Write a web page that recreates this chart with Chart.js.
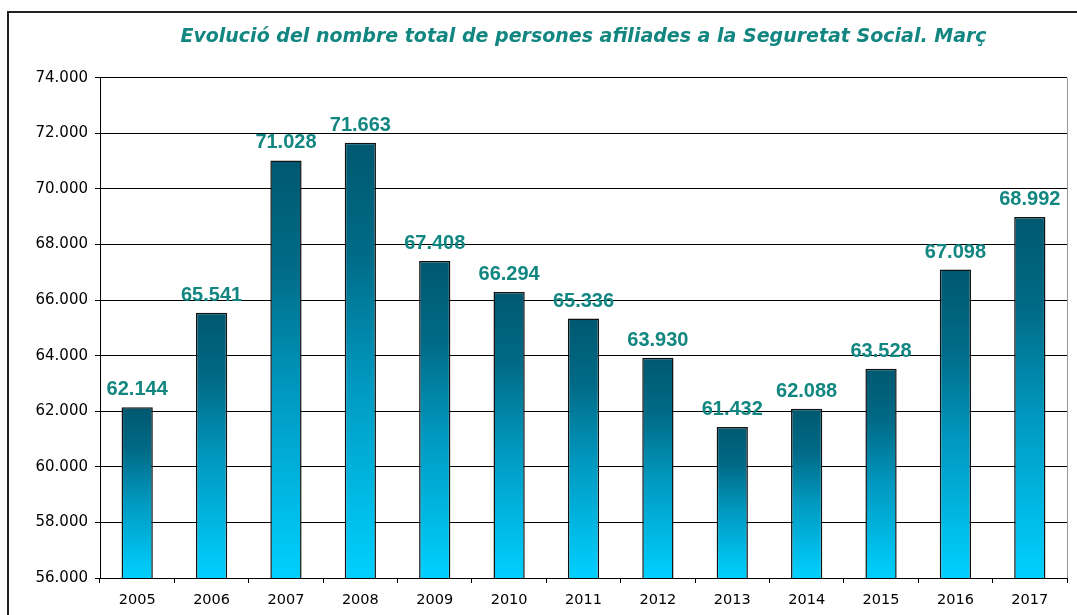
<!DOCTYPE html>
<html>
<head>
<meta charset="utf-8">
<script src="https://cdn.jsdelivr.net/npm/chart.js@4.4.0/dist/chart.umd.min.js"></script>
<style>
  body { margin: 0; background: #fff; overflow: hidden; }
  #wrap { position: relative; width: 1077px; height: 615px; }
  #frame {
    position: absolute; left: 7px; top: 11px; width: 1200px; height: 700px;
    border-left: 2px solid #222; border-top: 2px solid #222; pointer-events: none;
  }
</style>
</head>
<body>
<div id="wrap">
  <canvas id="chart" width="1077" height="615"></canvas>
  <div id="frame"></div>
</div>
<script>
const years = ["2005", "2006", "2007", "2008", "2009", "2010", "2011", "2012", "2013", "2014", "2015", "2016", "2017"];
const afiliats = [62144, 65541, 71028, 71663, 67408, 66294, 65336, 63930, 61432, 62088, 63528, 67098, 68992];
const yMin = 56000;
const yMax = 74000;
const yStep = 2000;
const titleText = "Evolució del nombre total de persones afiliades a la Seguretat Social. Març";
const tealText = "#128680";
const fontFamily = "'Liberation Sans', Arial, sans-serif";
const wideFamily = "'DejaVu Sans', sans-serif";

function formatThousands(v) {
  return String(v).replace(/\B(?=(\d{3})+(?!\d))/g, ".");
}

// each bar gets its own gradient, dark at the top, bright cyan at the base
function barGradient(context) {
  const chart = context.chart;
  const area = chart.chartArea;
  if (!area || context.raw === undefined) return "#0090b4";
  const top = chart.scales.y.getPixelForValue(context.raw);
  const g = chart.ctx.createLinearGradient(0, top, 0, area.bottom);
  g.addColorStop(0, "#005870");
  g.addColorStop(0.25, "#006a86");
  g.addColorStop(0.55, "#0098bf");
  g.addColorStop(1, "#00d0ff");
  return g;
}

const valueLabels = {
  id: "valueLabels",
  afterDatasetsDraw(chart) {
    const ctx = chart.ctx;
    const meta = chart.getDatasetMeta(0);
    ctx.save();
    ctx.font = "bold 20px " + fontFamily;
    ctx.fillStyle = tealText;
    ctx.textAlign = "center";
    ctx.textBaseline = "alphabetic";
    meta.data.forEach((bar, i) => {
      ctx.fillText(formatThousands(afiliats[i]), bar.x, bar.y - 12);
    });
    ctx.restore();
  },
};

const plotBorder = {
  id: "plotBorder",
  beforeDatasetsDraw(chart) {
    const a = chart.chartArea;
    const ctx = chart.ctx;
    ctx.save();
    ctx.strokeStyle = "#999";
    ctx.lineWidth = 1;
    ctx.beginPath();
    ctx.moveTo(Math.round(a.right) + 0.5, a.top);
    ctx.lineTo(Math.round(a.right) + 0.5, a.bottom);
    ctx.stroke();
    ctx.restore();
  },
};

new Chart(document.getElementById("chart"), {
  type: "bar",
  data: {
    labels: years,
    datasets: [
      {
        data: afiliats,
        backgroundColor: barGradient,
        borderColor: "#111",
        borderWidth: 1.5,
        barPercentage: 0.42,
        categoryPercentage: 1,
      },
    ],
  },
  options: {
    responsive: false,
    animation: false,
    layout: { padding: { left: 0, right: 10, top: 0, bottom: 0 } },
    plugins: {
      legend: { display: false },
      tooltip: { enabled: false },
      title: {
        display: true,
        text: titleText,
        fullSize: false,
        color: tealText,
        font: { family: wideFamily, size: 19, weight: "bold", style: "italic" },
        padding: { top: 26, bottom: 29 },
      },
    },
    scales: {
      x: {
        grid: { offset: true, drawOnChartArea: false, tickLength: 5, color: "#000" },
        border: { color: "#000", width: 1 },
        ticks: { color: "#000", padding: 9, font: { family: wideFamily, size: 14.5 } },
        afterFit(scale) { scale.height = 37; },
      },
      y: {
        min: yMin,
        max: yMax,
        grid: { color: "#000", lineWidth: 1, tickLength: 5, tickColor: "#000" },
        border: { color: "#000", width: 1 },
        ticks: {
          stepSize: yStep,
          color: "#000",
          padding: 7,
          font: { family: wideFamily, size: 15 },
          callback: (v) => formatThousands(v),
        },
        afterFit(scale) { scale.width = 100; },
      },
    },
  },
  plugins: [valueLabels, plotBorder],
});
</script>
</body>
</html>
